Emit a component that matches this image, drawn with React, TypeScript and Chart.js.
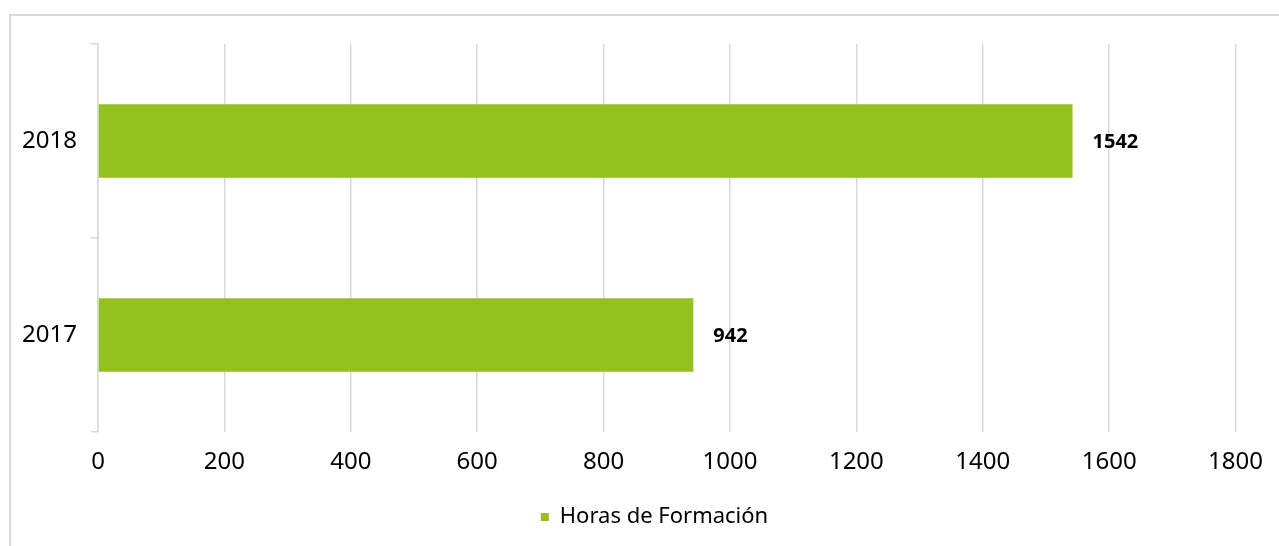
import React, { useEffect, useRef } from "react";
import { Chart, registerables } from "chart.js";

Chart.register(...registerables);

const categories = ["2018", "2017"];
const seriesName = "Horas de Formación";
const seriesValues = [1542, 942];
const xMin = 0;
const xMax = 1800;
const xStep = 200;

const GREEN = "#94C11F";
const GRID = "#d9d9d9";
const FONT = "'Noto Sans', 'Open Sans', sans-serif";

const valueLabels = {
  id: "valueLabels",
  afterDatasetsDraw(chart: any) {
    const ctx = chart.ctx;
    const meta = chart.getDatasetMeta(0);
    ctx.save();
    ctx.font = `bold 20px ${FONT}`;
    ctx.fillStyle = "#000";
    ctx.textAlign = "left";
    ctx.textBaseline = "middle";
    meta.data.forEach((bar: any, i: number) => {
      ctx.fillText(String(seriesValues[i]), bar.x + 20, bar.y + 1);
    });
    ctx.restore();
  },
};

// shift the legend's box so it is centred like the reference
const legendShift = {
  id: "legendShift",
  afterLayout(chart: any) {
    const l = chart.legend;
    if (l) {
      l.left += 72;
      l.width = l.right - l.left;
    }
  },
};

export default function App() {
  const ref = useRef<HTMLCanvasElement | null>(null);
  useEffect(() => {
    if (!ref.current) return;
    const chart = new Chart(ref.current, {
      type: "bar",
      data: {
        labels: categories,
        datasets: [
          {
            label: seriesName,
            data: seriesValues,
            backgroundColor: GREEN,
            borderWidth: 0,
            barPercentage: 0.38,
            categoryPercentage: 1.0,
          },
        ],
      },
      options: {
        indexAxis: "y",
        responsive: false,
        animation: false,
        layout: { padding: { left: 0, top: 44, right: 42, bottom: 8 } },
        plugins: {
          tooltip: { enabled: false },
          legend: {
            position: "bottom",
            labels: {
              boxWidth: 8,
              boxHeight: 8,
              padding: 10,
              color: "#000",
              font: { family: FONT, size: 22 },
            },
          },
        },
        scales: {
          x: {
            min: xMin,
            max: xMax,
            ticks: {
              stepSize: xStep,
              color: "#000",
              padding: 16,
              font: { family: FONT, size: 24 },
              callback: (v: any) => String(v),
            },
            grid: { color: GRID, lineWidth: 1.5, drawTicks: false },
            border: { display: false },
            afterFit: (s: any) => {
              s.height = 64;
            },
          },
          y: {
            ticks: {
              color: "#000",
              padding: 14,
              font: { family: FONT, size: 24 },
            },
            grid: {
              drawOnChartArea: false,
              drawTicks: true,
              tickLength: 7,
              color: GRID,
              lineWidth: 1.5,
              offset: true,
            },
            border: { display: true, color: GRID, width: 1.5 },
            afterFit: (s: any) => {
              s.width = 98;
            },
          },
        },
      },
      plugins: [valueLabels, legendShift],
    });
    return () => chart.destroy();
  }, []);

  return (
    <div
      style={{
        position: "fixed",
        left: 0,
        top: 0,
        width: 1279,
        height: 546,
        overflow: "hidden",
        background: "#fff",
      }}
    >
      <div
        style={{
          position: "absolute",
          left: 9,
          top: 14,
          width: 1400,
          height: 600,
          border: "2px solid #d9d9d9",
        }}
      />
      <canvas
        ref={ref}
        width={1279}
        height={546}
        style={{ position: "absolute", left: 0, top: 0, width: 1279, height: 546 }}
      />
    </div>
  );
}
